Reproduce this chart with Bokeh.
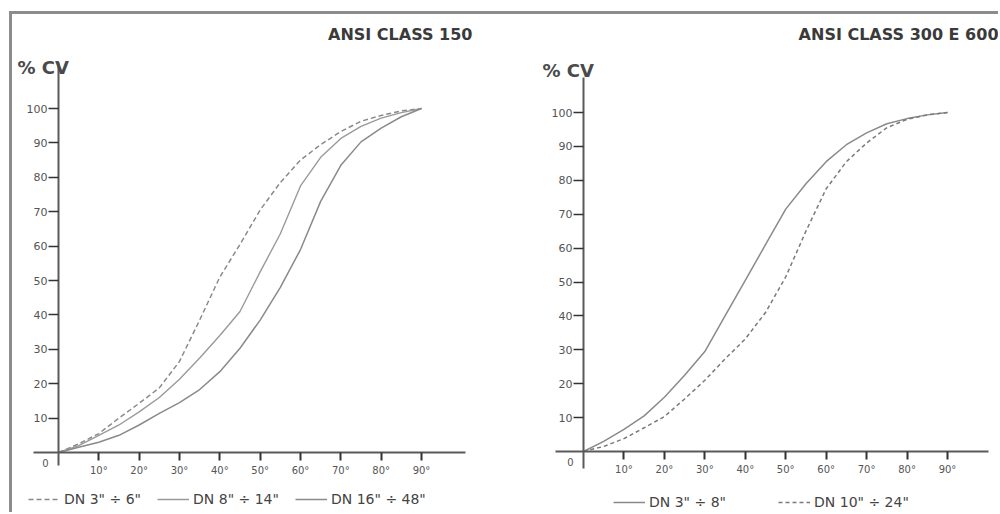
from bokeh.plotting import figure
from bokeh.models import Range1d, Label, Legend, LegendItem, FixedTicker, LinearAxis
from bokeh.layouts import row
from bokeh.embed import file_html
from bokeh.resources import INLINE

# ---------------- data ----------------
angles = [0, 5, 10, 15, 20, 25, 30, 35, 40, 45, 50, 55, 60, 65, 70, 75, 80, 85, 90]

# ANSI CLASS 150
cv150_dn3_6 = [0, 2.5, 5.5, 10, 14.3, 18.8, 26.5, 38.5, 51, 60.5, 70.5, 78.5, 85, 89.5, 93.3, 96.3, 98, 99.3, 100]
cv150_dn8_14 = [0, 2, 5, 8, 11.8, 16, 21.3, 27.5, 34, 41, 52.5, 63.6, 77.5, 85.8, 91.3, 94.8, 97.2, 98.8, 100]
cv150_dn16_48 = [0, 1.5, 3, 5, 8, 11.4, 14.5, 18.3, 23.5, 30.3, 38.5, 48, 59, 73, 83.5, 90.3, 94.3, 97.6, 100]

# ANSI CLASS 300 E 600
cv300_dn3_8 = [0, 3, 6.5, 10.5, 16, 22.5, 29.5, 40, 50.5, 61, 71.5, 79, 85.5, 90.5, 94, 96.7, 98.2, 99.3, 100]
cv300_dn10_24 = [0, 1.5, 3.8, 7, 10.3, 15.5, 21, 27.3, 33.2, 41, 51.5, 65, 77.5, 85.5, 91, 95.5, 98, 99.3, 100]

y_ticks = [10, 20, 30, 40, 50, 60, 70, 80, 90, 100]
x_ticks = [10, 20, 30, 40, 50, 60, 70, 80, 90]
x_tick_labels = {t: f"{t}°" for t in x_ticks}

titles = ["ANSI CLASS 150", "ANSI CLASS 300 E 600"]
labels150 = ['DN 3" ÷ 6"', 'DN 8" ÷ 14"', 'DN 16" ÷ 48"']
labels300 = ['DN 3" ÷ 8"', 'DN 10" ÷ 24"']

FONT = "DejaVu Sans"
AX = "#5a5a5a"
TXT = "#555555"

# one canvas holding both panels; the right panel uses its own named ranges
p = figure(width=986, height=498,
           x_range=Range1d(-11.405, 233.06), y_range=Range1d(-17.44, 127.33),
           output_backend="svg", toolbar_location=None,
           min_border_left=0, min_border_right=0, min_border_top=0, min_border_bottom=0)
p.title.visible = False
p.extra_x_ranges = {"r": Range1d(-141.18, 102.61)}
p.extra_y_ranges = {"r": Range1d(-17.99, 128.91)}
p.outline_line_color = None
p.grid.visible = False
p.background_fill_color = "white"
p.border_fill_color = "white"

xax_l = p.xaxis[0]
yax_l = p.yaxis[0]
xax_l.bounds = (-6.2, 100.9)
yax_l.bounds = (-3.78, 113.37)
xax_r = LinearAxis(x_range_name="r", y_range_name="r", bounds=(-6.92, 100.14))
yax_r = LinearAxis(x_range_name="r", y_range_name="r", bounds=(-5.01, 110.32))
p.add_layout(xax_r, "below")
p.add_layout(yax_r, "left")

for ax in (xax_l, xax_r):
    ax.ticker = FixedTicker(ticks=x_ticks)
    ax.major_label_overrides = x_tick_labels
    ax.major_tick_out = 8
    ax.major_label_standoff = 4
    ax.major_label_text_font_size = "10px"
for ax in (yax_l, yax_r):
    ax.ticker = FixedTicker(ticks=y_ticks)
    ax.major_tick_out = 10
    ax.major_label_standoff = 1
    ax.major_label_text_baseline = "bottom"
    ax.major_label_text_font_size = "11px"
for ax in (xax_l, xax_r, yax_l, yax_r):
    ax.fixed_location = 0
    ax.axis_line_color = AX
    ax.axis_line_width = 2
    ax.major_tick_line_color = "#333333"
    ax.major_tick_line_width = 2
    ax.minor_tick_line_color = None
    ax.major_tick_in = 0
    ax.major_label_text_color = TXT
    ax.major_label_text_font = FONT
for ax in (yax_l, yax_r):
    ax.major_tick_line_width = 1.5


def add_texts(xr_end, yr_end, title, title_off, cv_off, rn):
    p.add_layout(Label(x=xr_end, y=yr_end, x_offset=title_off[0], y_offset=title_off[1],
                       x_range_name=rn, y_range_name=rn,
                       text=title, text_align="right", text_baseline="middle",
                       text_font=FONT, text_font_style="bold",
                       text_font_size="16px", text_color="#3a3a3a"))
    p.add_layout(Label(x=0, y=yr_end, x_offset=-41, y_offset=cv_off,
                       x_range_name=rn, y_range_name=rn,
                       text="% CV", text_align="left", text_baseline="middle",
                       text_font=FONT, text_font_style="bold",
                       text_font_size="18px", text_color="#4a4a4a"))
    p.add_layout(Label(x=0, y=0, x_offset=-13, y_offset=-10, text="0",
                       x_range_name=rn, y_range_name=rn,
                       text_align="center", text_baseline="middle",
                       text_font=FONT, text_font_size="10px", text_color=TXT))


add_texts(100.9, 113.37, titles[0], (7, 28), -5, "default")
add_texts(100.14, 110.32, titles[1], (10, 43), 7, "r")

# ---------- left chart curves ----------
r1 = p.line(angles, cv150_dn3_6, line_color="#8a8a8a", line_width=1.5, line_dash="5 3")
r2 = p.line(angles, cv150_dn8_14, line_color="#9a9a9a", line_width=1.4)
r3 = p.line(angles, cv150_dn16_48, line_color="#8a8a8a", line_width=1.5)

# ---------- right chart curves ----------
s1 = p.line(angles, cv300_dn3_8, line_color="#8a8a8a", line_width=1.5,
            x_range_name="r", y_range_name="r")
s2 = p.line(angles, cv300_dn10_24, line_color="#7a7a7a", line_width=1.5, line_dash="4 3",
            x_range_name="r", y_range_name="r")

leg_style = dict(orientation="horizontal", border_line_color=None, background_fill_alpha=0,
                 label_text_font=FONT, label_text_font_size="14px", label_text_color="#444444",
                 glyph_width=32, label_standoff=4, padding=0, margin=0)
leg1 = Legend(items=[LegendItem(label=labels150[0], renderers=[r1]),
                     LegendItem(label=labels150[1], renderers=[r2]),
                     LegendItem(label=labels150[2], renderers=[r3])],
              location=(16, 3), spacing=16, **leg_style)
leg2 = Legend(items=[LegendItem(label=labels300[0], renderers=[s1]),
                     LegendItem(label=labels300[1], renderers=[s2])],
              location=(601, 0), spacing=52, **leg_style)
p.add_layout(leg1)
p.add_layout(leg2)

layout = row(p, styles={"margin-left": "9px", "margin-top": "11px",
                        "border-top": "3px solid #8c8c8c", "border-left": "3px solid #8c8c8c"})

open("out.html", "w").write(file_html(layout, INLINE))
